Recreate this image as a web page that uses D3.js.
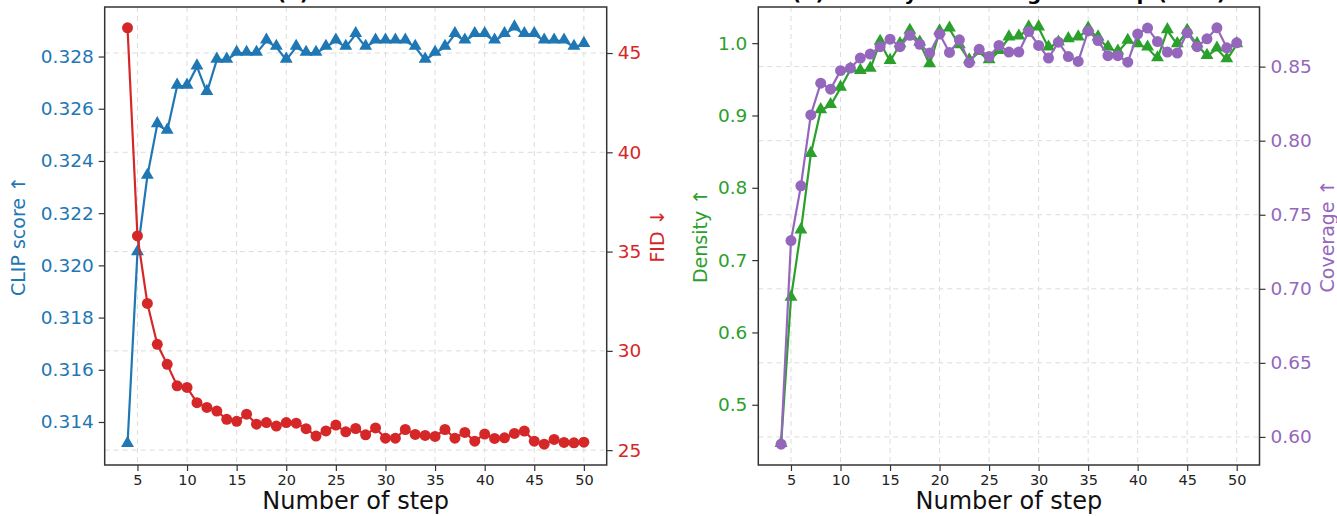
<!DOCTYPE html>
<html>
<head>
<meta charset="utf-8">
<script src="https://cdn.jsdelivr.net/npm/d3@7/dist/d3.min.js"></script>
<style>
  body { margin: 0; background: #fff; }
  text { font-family: "DejaVu Sans", sans-serif; }
</style>
</head>
<body>
<div id="chart"></div>
<script>
var width = 1337;
var height = 516;

// shared x values
var steps = [4, 5, 6, 7, 8, 9, 10, 11, 12, 13, 14, 15, 16, 17, 18, 19, 20, 21, 22, 23, 24, 25, 26, 27,
  28, 29, 30, 31, 32, 33, 34, 35, 36, 37, 38, 39, 40, 41, 42, 43, 44, 45, 46, 47, 48, 49, 50];
var stepTicks = [5, 10, 15, 20, 25, 30, 35, 40, 45, 50];

// panel (a)
var clipScore = [0.31315, 0.32049, 0.32342, 0.32540, 0.32515, 0.32687, 0.32687, 0.32761, 0.32663, 0.32787,
  0.32787, 0.32813, 0.32813, 0.32813, 0.32860, 0.32836, 0.32787, 0.32836, 0.32813, 0.32813, 0.32836,
  0.32860, 0.32836, 0.32885, 0.32836, 0.32860, 0.32860, 0.32860, 0.32860, 0.32836, 0.32787, 0.32813,
  0.32836, 0.32885, 0.32860, 0.32885, 0.32885, 0.32860, 0.32885, 0.32910, 0.32885, 0.32885, 0.32860,
  0.32860, 0.32860, 0.32836, 0.32847];
var fid = [46.27, 35.79, 32.39, 30.33, 29.32, 28.24, 28.16, 27.39, 27.15, 26.97, 26.55, 26.45, 26.81,
  26.31, 26.39, 26.21, 26.39, 26.36, 26.08, 25.71, 25.97, 26.26, 25.92, 26.09, 25.77, 26.12, 25.60,
  25.60, 26.04, 25.79, 25.74, 25.69, 26.04, 25.60, 25.89, 25.45, 25.81, 25.59, 25.62, 25.84, 25.96,
  25.45, 25.30, 25.54, 25.39, 25.37, 25.40];
var clipTicks = [0.314, 0.316, 0.318, 0.320, 0.322, 0.324, 0.326, 0.328];
var fidTicks = [25, 30, 35, 40, 45];

// panel (b)
var density = [0.4455, 0.6476, 0.7406, 0.8464, 0.9070, 0.9140, 0.9380, 0.9634, 0.9611, 0.9643, 1.0014,
  0.9750, 0.9981, 1.0166, 1.0004, 0.9703, 1.0157, 1.0198, 0.9967, 0.9759, 0.9875,
  0.9759, 0.9889, 1.0074, 1.0087, 1.0212, 1.0212, 0.9935, 1.0004, 1.0050, 1.0074,
  1.0198, 1.0074, 0.9935, 0.9879, 1.0028, 0.9981, 0.9935, 0.9786, 1.0175, 0.9981,
  1.0166, 0.9981, 0.9820, 0.9921, 0.9772, 0.9981];
var coverage = [0.5951, 0.7326, 0.7695, 0.8174, 0.8388, 0.8348, 0.8473, 0.8490, 0.8558, 0.8585, 0.8635,
  0.8685, 0.8635, 0.8711, 0.8651, 0.8592, 0.8720, 0.8596, 0.8681, 0.8527, 0.8617,
  0.8568, 0.8643, 0.8598, 0.8598, 0.8737, 0.8643, 0.8558, 0.8665, 0.8568, 0.8535,
  0.8741, 0.8676, 0.8574, 0.8574, 0.8530, 0.8720, 0.8760, 0.8669, 0.8598, 0.8592,
  0.8729, 0.8635, 0.8688, 0.8762, 0.8627, 0.8661];
var densityTicks = [0.5, 0.6, 0.7, 0.8, 0.9, 1.0];
var coverageTicks = [0.60, 0.65, 0.70, 0.75, 0.80, 0.85];

var blue = '#1f77b4', red = '#d62728', green = '#2ca02c', purple = '#9467bd';

var plotTop = 7, plotBottom = 465;

var svg = d3.select("#chart")
  .append("svg")
  .attr("width", width)
  .attr("height", height);
svg.append("rect")
  .attr("width", "100%")
  .attr("height", "100%")
  .attr("fill", "white");

// matplotlib style 5% margins
function padded(arr) {
  var e = d3.extent(arr), m = (e[1] - e[0]) * 0.05;
  return [e[0] - m, e[1] + m];
}

function drawPanel(p) {
  var x = d3.scaleLinear().domain(padded(steps)).range([p.x0, p.x1]);
  var yL = d3.scaleLinear().domain(padded(p.left.values)).range([plotBottom, plotTop]);
  var yR = d3.scaleLinear().domain(padded(p.right.values)).range([plotBottom, plotTop]);
  var g = svg.append("g");

  // title: the reference only shows its lowest pixels at the top edge
  g.append("text")
    .attr("x", (p.x0 + p.x1) / 2)
    .attr("y", -0.5)
    .attr("text-anchor", "middle")
    .style("font-size", "20px")
    .style("font-weight", "bold")
    .text(p.title);

  // grid: vertical from x ticks, horizontal from the twin axis
  g.append("g").selectAll("line")
    .data(stepTicks).enter().append("line")
    .attr("x1", d => x(d)).attr("x2", d => x(d))
    .attr("y1", plotTop).attr("y2", plotBottom)
    .attr("stroke", "#dcdcdc").attr("stroke-width", 1)
    .attr("stroke-dasharray", "5,4");
  g.append("g").selectAll("line")
    .data(p.right.ticks).enter().append("line")
    .attr("x1", p.x0).attr("x2", p.x1)
    .attr("y1", d => yR(d)).attr("y2", d => yR(d))
    .attr("stroke", "#dcdcdc").attr("stroke-width", 1)
    .attr("stroke-dasharray", "5,4");

  [[p.left, yL], [p.right, yR]].forEach(function (s) {
    var ser = s[0], y = s[1];
    var line = d3.line().x((d, i) => x(steps[i])).y(d => y(d));
    g.append("path")
      .datum(ser.values)
      .attr("d", line)
      .attr("fill", "none")
      .attr("stroke", ser.color)
      .attr("stroke-width", 2.2);
    var sym = d3.symbol()
      .type(ser.marker == "tri" ? d3.symbolTriangle : d3.symbolCircle)
      .size(ser.marker == "tri" ? 72 : 95);
    g.append("g").selectAll("path")
      .data(ser.values).enter().append("path")
      .attr("d", sym)
      .attr("transform", (d, i) => "translate(" + x(steps[i]) + "," + (y(d) + (ser.marker == "tri" ? -1 : 0)) + ")")
      .attr("fill", ser.color);
  });

  // frame
  g.append("rect")
    .attr("x", p.x0).attr("y", plotTop)
    .attr("width", p.x1 - p.x0).attr("height", plotBottom - plotTop)
    .attr("fill", "none").attr("stroke", "#333").attr("stroke-width", 1.5);

  var xAxis = g.append("g")
    .attr("transform", "translate(0," + plotBottom + ")")
    .call(d3.axisBottom(x).tickValues(stepTicks).tickSize(6).tickPadding(4));
  xAxis.selectAll("text").style("font-size", "14.5px").attr("fill", "#222");

  var lAxis = g.append("g")
    .attr("transform", "translate(" + p.x0 + ",0)")
    .call(d3.axisLeft(yL).tickValues(p.left.ticks).tickFormat(p.left.fmt).tickSize(6).tickPadding(5));
  lAxis.selectAll("text").style("font-size", "18.5px").attr("fill", p.left.color);

  var rAxis = g.append("g")
    .attr("transform", "translate(" + p.x1 + ",0)")
    .call(d3.axisRight(yR).tickValues(p.right.ticks).tickFormat(p.right.fmt).tickSize(6).tickPadding(5));
  rAxis.selectAll("text").style("font-size", "18.5px").attr("fill", p.right.color);

  [xAxis, lAxis, rAxis].forEach(function (a) {
    a.select(".domain").remove();
    a.selectAll(".tick line").attr("stroke", "#333").attr("stroke-width", 1.2);
  });

  g.append("text")
    .attr("x", (p.x0 + p.x1) / 2)
    .attr("y", 509)
    .attr("text-anchor", "middle")
    .style("font-size", "24px")
    .attr("fill", "#111")
    .text("Number of step");

  g.append("text")
    .attr("transform", "translate(" + p.left.labelX + "," + (plotTop + plotBottom) / 2 + ") rotate(-90)")
    .attr("text-anchor", "middle")
    .attr("dy", "0.35em")
    .style("font-size", "19px")
    .attr("fill", p.left.color)
    .text(p.left.label);
  g.append("text")
    .attr("transform", "translate(" + p.right.labelX + "," + (plotTop + plotBottom) / 2 + ") rotate(-90)")
    .attr("text-anchor", "middle")
    .attr("dy", "0.35em")
    .style("font-size", "19px")
    .attr("fill", p.right.color)
    .text(p.right.label);
}

drawPanel({
  x0: 104.7, x1: 606.7,
  title: "(a) CLIP & FID",
  left: { values: clipScore, ticks: clipTicks, fmt: d3.format(".3f"), color: blue, marker: "tri",
          label: "CLIP score \u2191", labelX: 18 },
  right: { values: fid, ticks: fidTicks, fmt: d3.format("d"), color: red, marker: "circle",
           label: "FID \u2193", labelX: 657 }
});

drawPanel({
  x0: 758.3, x1: 1259.5,
  title: "(b) Density & Coverage vs. step (ours)",
  left: { values: density, ticks: densityTicks, fmt: d3.format(".1f"), color: green, marker: "tri",
          label: "Density \u2191", labelX: 700 },
  right: { values: coverage, ticks: coverageTicks, fmt: d3.format(".2f"), color: purple, marker: "circle",
           label: "Coverage \u2191", labelX: 1327 }
});
</script>
</body>
</html>
